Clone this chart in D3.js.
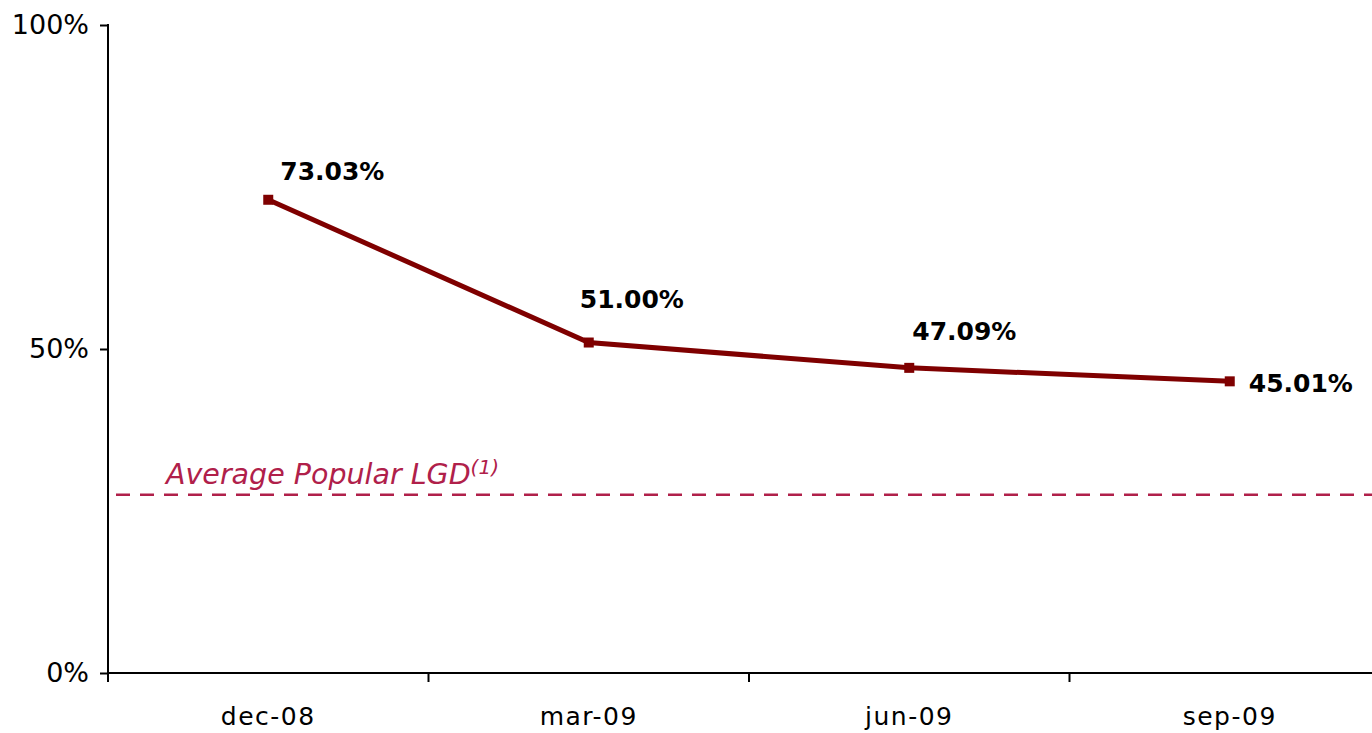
<!DOCTYPE html>
<html>
<head>
<meta charset="utf-8">
<script src="https://cdn.jsdelivr.net/npm/d3@7"></script>
<style>
  body { margin: 0; background: #fff; }
  svg { display: block; }
  .axis text { font-family: "DejaVu Sans", sans-serif; font-size: 27px; fill: #000; }
  .xaxis text { font-size: 25px; letter-spacing: 1.5px; }
  .axis path, .axis line { stroke: #000; stroke-width: 2; }
  .vlabel { font-family: "DejaVu Sans", sans-serif; font-size: 25px; font-weight: bold; fill: #000; }
</style>
</head>
<body>
<svg id="chart" width="1372" height="733"></svg>
<script>
// data
const periods = ["dec-08", "mar-09", "jun-09", "sep-09"]
const lgd = [73.03, 51.00, 47.09, 45.01]
const avgLGD = 27.5
const yTicks = [0, 50, 100]

const width = 1372, height = 733
const mLeft = 108, mTop = 25, mBottom = 673
const Fig = d3.select("#chart")

const xScale = d3.scaleBand()
    .domain(periods)
    .range([mLeft, mLeft + 4 * 320.5])

const yScale = d3.scaleLinear()
    .domain([0, 100])
    .range([mBottom, mTop])

// axes
const x_axis = d3.axisBottom(xScale).tickSize(0).tickPadding(34)
Fig.append("g").attr("class", "axis xaxis")
    .attr("transform", `translate(0,${mBottom})`)
    .call(x_axis)
    .call(g => g.select(".domain").attr("d", `M${mLeft},0H${width + 20}`))

// tick marks between categories
Fig.append("g").attr("class", "axis")
    .selectAll("line")
    .data(periods)
    .join("line")
    .attr("x1", d => xScale(d)).attr("x2", d => xScale(d))
    .attr("y1", mBottom).attr("y2", mBottom + 9)

const y_axis = d3.axisLeft(yScale).tickValues(yTicks).tickSize(8).tickPadding(11)
    .tickFormat(d => d + "%")
Fig.append("g").attr("class", "axis")
    .attr("transform", `translate(${mLeft},0)`)
    .call(y_axis)
    .call(g => g.select(".domain").attr("d", `M0,${mTop - 1}V${mBottom}`))

// average line
Fig.append("line")
    .attr("x1", mLeft).attr("x2", width)
    .attr("y1", yScale(avgLGD)).attr("y2", yScale(avgLGD))
    .attr("stroke", "#b0204a")
    .attr("stroke-width", 2.5)
    .attr("stroke-dasharray", "14,10")
    .attr("stroke-dashoffset", -8)

const avgText = Fig.append("text")
    .attr("x", 166)
    .attr("y", yScale(avgLGD) - 11)
    .attr("fill", "#b0204a")
    .style("font-family", "'DejaVu Sans', sans-serif")
    .style("font-style", "italic")
    .style("font-size", "28.5px")
    .text("Average Popular LGD")
avgText.append("tspan")
    .attr("dy", -10)
    .style("font-size", "20px")
    .text("(1)")

// line
const pts = periods.map((p, i) => [xScale(p) + xScale.bandwidth() / 2, yScale(lgd[i])])

Fig.append("path")
    .attr("d", d3.line()(pts))
    .attr("fill", "none")
    .attr("stroke", "#7f0000")
    .attr("stroke-width", 5)

Fig.selectAll(".markers")
    .data(pts)
    .join("rect")
    .attr("class", "markers")
    .attr("x", d => d[0] - 5)
    .attr("y", d => d[1] - 5)
    .attr("width", 10)
    .attr("height", 10)
    .attr("fill", "#7f0000")

// value labels (excel-style placement)
const labelOffsets = [[12, -20], [-9, -35], [3, -28], [19, 11]]
Fig.selectAll(".vlabel")
    .data(lgd)
    .join("text")
    .attr("class", "vlabel")
    .attr("x", (d, i) => pts[i][0] + labelOffsets[i][0])
    .attr("y", (d, i) => pts[i][1] + labelOffsets[i][1])
    .text(d => d.toFixed(2) + "%")
</script>
</body>
</html>
